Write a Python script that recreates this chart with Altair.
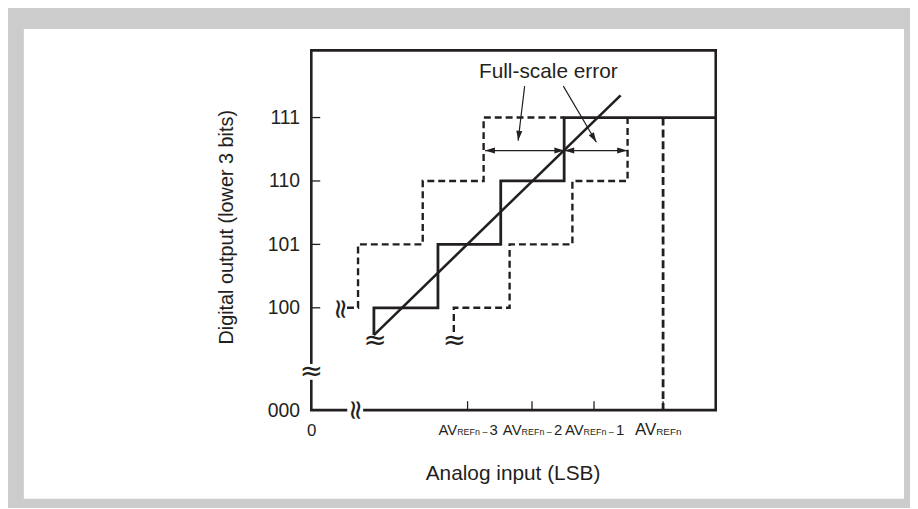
import altair as alt
import pandas as pd

INK = "#231f20"
FONT = "Liberation Sans"

# ---- data (units: LSB on x, code steps on y) ----
x_domain = [2.453, 8.83]
y_domain = [2.386, 8.06]

y_tick_vals = [2.386, 4, 5, 6, 7]
y_tick_labels = ["000", "100", "101", "110", "111"]
y_inner_ticks = [4, 5, 6, 7]

x_zero = [2.453]
x_tick_vals = [4.917, 5.933, 6.911]
x_tick_sub = ["REFn –", "REFn –", "REFn –"]
x_tick_num = ["3", "2", "1"]
x_fullscale = [8.0]
x_fullscale_sub = ["REFn"]

solid_x = [3.44, 3.44, 4.45, 4.45, 5.44, 5.44, 6.44, 6.44, 8.83]
solid_y = [3.57, 4, 4, 5, 5, 6, 6, 7, 7]

left_x = [3.016, 3.19, 3.19, 4.21, 4.21, 5.17, 5.17, 6.44]
left_y = [4, 4, 5, 5, 6, 6, 7, 7]

right_x = [4.70, 4.70, 5.58, 5.58, 6.57, 6.57, 7.44, 7.44]
right_y = [3.62, 4, 4, 5, 5, 6, 6, 7]

ideal_x = [3.44, 7.33]
ideal_y = [3.57, 7.35]

fs_x = [8.0, 8.0]
fs_y = [7, 2.386]

arrow_group = ["a", "a", "b", "b", "c", "c", "d", "d"]
arrow_x = [5.192, 6.442, 6.442, 7.433, 5.817, 5.714, 6.427, 6.948]
arrow_y = [6.48, 6.48, 6.48, 6.48, 7.495, 6.636, 7.495, 6.61]

head_x = [5.192, 6.442, 6.442, 7.433, 5.714, 6.948]
head_y = [6.48, 6.48, 6.48, 6.48, 6.636, 6.61]
head_angle = [180, 0, 180, 0, 96.8, 59.5]

note_text = ["Full-scale error"]
note_x = [6.19]
note_y = [7.72]

break_x = [2.453, 3.145, 2.91, 3.46, 4.71]
break_y = [2.99, 2.386, 3.98, 3.48, 3.48]
break_angle = [0, 90, 90, 0, 0]
gap_x = [2.453, 3.145]
gap_y = [2.99, 2.386]
gap_angle = [0, 90]

# ---- scales and axes ----
xs = alt.Scale(domain=x_domain, nice=False, zero=False)
ys = alt.Scale(domain=y_domain, nice=False, zero=False)

label_expr = "".join(
    f"datum.value == {v} ? '{l}' : " for v, l in zip(y_tick_vals, y_tick_labels)
) + "''"

Y_AXIS = alt.Axis(
    values=y_tick_vals, labelExpr=label_expr, ticks=False, domain=False, grid=False,
    labelPadding=12, labelFontSize=19.5, labelColor=INK, labelFont=FONT,
    title="Digital output (lower 3 bits)", titleFont=FONT, titleFontSize=20,
    titleFontWeight="normal", titleColor=INK, titleAngle=270, titleX=-86,
    titleY=178, titleAlign="center", titleBaseline="middle", zindex=2,
)
X_AXIS = alt.Axis(
    values=x_zero, labelExpr="'0'", ticks=False, domain=False, grid=False,
    labelPadding=13, labelFontSize=17, labelColor=INK, labelFont=FONT,
    labelFlush=False, labelBaseline="top",
    title="Analog input (LSB)", titleFont=FONT, titleFontSize=21,
    titleFontWeight="normal", titleColor=INK, titleX=203, titleY=64,
    titleAlign="center", titleBaseline="middle", zindex=2,
)


def path_df(xv, yv):
    return pd.DataFrame({"x": xv, "y": yv, "o": list(range(len(xv)))})


def X():
    return alt.X("x:Q", scale=xs, axis=X_AXIS)


def Y():
    return alt.Y("y:Q", scale=ys, axis=Y_AXIS)


one = pd.DataFrame({"a": [0]})

panel = alt.Chart(one).mark_rect(color="white").encode(
    x=alt.value(-290), x2=alt.value(598), y=alt.value(-21.5), y2=alt.value(452.5)
)

solid = alt.Chart(path_df(solid_x, solid_y)).mark_line(
    color=INK, strokeWidth=2.8, strokeJoin="miter"
).encode(x=X(), y=Y(), order="o:Q")

ideal = alt.Chart(path_df(ideal_x, ideal_y)).mark_line(
    color=INK, strokeWidth=2.6
).encode(x=X(), y=Y(), order="o:Q")

left = alt.Chart(path_df(left_x, left_y)).mark_line(
    color=INK, strokeWidth=2.4, strokeDash=[7, 4]
).encode(x=X(), y=Y(), order="o:Q")

right = alt.Chart(path_df(right_x, right_y)).mark_line(
    color=INK, strokeWidth=2.4, strokeDash=[7, 4]
).encode(x=X(), y=Y(), order="o:Q")

fs = alt.Chart(path_df(fs_x, fs_y)).mark_line(
    color=INK, strokeWidth=2.8, strokeDash=[8, 4]
).encode(x=X(), y=Y(), order="o:Q")

arrows_df = pd.DataFrame({"x": arrow_x, "y": arrow_y, "g": arrow_group,
                          "o": list(range(len(arrow_x)))})
arrows = alt.Chart(arrows_df).mark_line(color=INK, strokeWidth=1.2).encode(
    x=X(), y=Y(), detail="g:N", order="o:Q"
)

heads = alt.Chart(pd.DataFrame({"x": head_x, "y": head_y, "a": head_angle})).mark_point(
    shape="M0,0 L-2,-0.6 L-2,0.6 Z", filled=True, size=100, color=INK, opacity=1
).encode(x=X(), y=Y(), angle=alt.Angle("a:Q", scale=None))

note = alt.Chart(pd.DataFrame({"x": note_x, "y": note_y, "t": note_text})).mark_text(
    font=FONT, fontSize=21, color=INK, align="center", baseline="middle"
).encode(x=X(), y=Y(), text="t:N")

yticks = alt.Chart(pd.DataFrame({"y": y_inner_ticks})).mark_rule(
    color=INK, strokeWidth=1.3
).encode(y=Y(), x=alt.value(0), x2=alt.value(9))

xticks = alt.Chart(pd.DataFrame({"x": x_tick_vals + x_fullscale})).mark_rule(
    color=INK, strokeWidth=1.3
).encode(x=X(), y=alt.value(363), y2=alt.value(354))

box = alt.Chart(one).mark_rect(filled=False, stroke=INK, strokeWidth=2.6).encode(
    x=alt.value(0), x2=alt.value("width"), y=alt.value(0), y2=alt.value("height")
)

gaps = alt.Chart(pd.DataFrame({"x": gap_x, "y": gap_y, "a": gap_angle})).mark_point(
    shape="M-0.35,-1 L0.35,-1 L0.35,1 L-0.35,1 Z", filled=True, size=256,
    color="white", opacity=1
).encode(x=X(), y=Y(), angle=alt.Angle("a:Q", scale=None))

breaks = alt.Chart(pd.DataFrame({"x": break_x, "y": break_y, "a": break_angle,
                                 "t": ["≈"] * len(break_x)})).mark_text(
    font="DejaVu Sans", fontSize=28, color=INK, align="center", baseline="middle"
).encode(x=X(), y=Y(), text="t:N", angle=alt.Angle("a:Q", scale=None))

LAB_Y = 388.5
av = alt.Chart(pd.DataFrame({"x": x_tick_vals, "t": ["AV"] * 3})).mark_text(
    font=FONT, fontSize=15, color=INK, align="right", baseline="alphabetic", dx=-10.5
).encode(x=X(), y=alt.value(LAB_Y), text="t:N")
av_sub = alt.Chart(pd.DataFrame({"x": x_tick_vals, "t": x_tick_sub})).mark_text(
    font=FONT, fontSize=9, color=INK, align="left", baseline="alphabetic", dx=-10.5
).encode(x=X(), y=alt.value(LAB_Y), text="t:N")
av_num = alt.Chart(pd.DataFrame({"x": x_tick_vals, "t": x_tick_num})).mark_text(
    font=FONT, fontSize=15, color=INK, align="right", baseline="alphabetic", dx=30.5
).encode(x=X(), y=alt.value(LAB_Y), text="t:N")
avf = alt.Chart(pd.DataFrame({"x": x_fullscale, "t": ["AV"]})).mark_text(
    font=FONT, fontSize=17, color=INK, align="right", baseline="alphabetic", dx=-7
).encode(x=X(), y=alt.value(LAB_Y), text="t:N")
avf_sub = alt.Chart(pd.DataFrame({"x": x_fullscale, "t": x_fullscale_sub})).mark_text(
    font=FONT, fontSize=10, color=INK, align="left", baseline="alphabetic", dx=-7
).encode(x=X(), y=alt.value(LAB_Y), text="t:N")

chart = alt.layer(
    panel, solid, ideal, left, right, fs, arrows, heads, note, yticks, xticks,
    box, gaps, breaks, av, av_sub, av_num, avf, avf_sub
).properties(
    width=408, height=363,
    autosize=alt.AutoSizeParams(type="none"),
    padding={"left": 306, "top": 40.5, "right": 196, "bottom": 96.5},
    background="#cccccc",
).configure_view(stroke=None)

chart.save("out.html", embed_options={"renderer": "svg", "actions": False})
